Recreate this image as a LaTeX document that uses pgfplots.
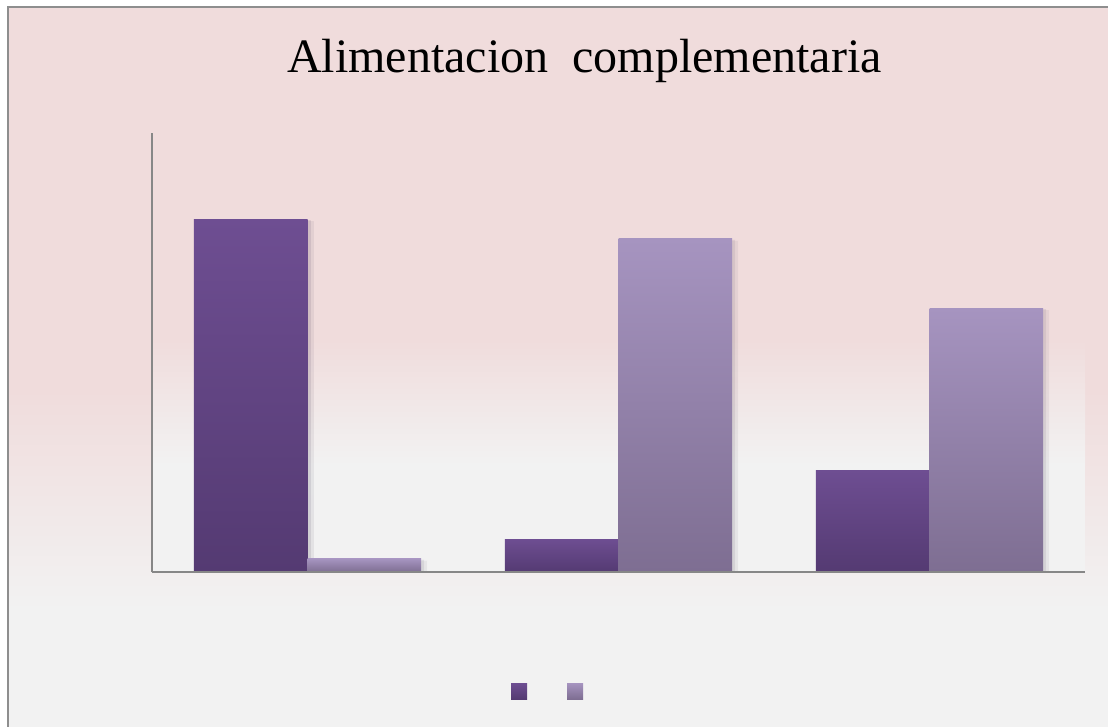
\documentclass[border=0pt]{standalone}
\usepackage{pgfplots}
\pgfplotsset{compat=1.18}
\usepackage{fontspec}
\setmainfont{Liberation Serif}
\definecolor{pinkbg}{HTML}{F0DCDC}
\definecolor{graybg}{HTML}{F2F2F2}
\definecolor{bordergray}{HTML}{8E8E8E}
\definecolor{axisgray}{HTML}{878787}
\definecolor{darktop}{HTML}{6E4E92}
\definecolor{darkbot}{HTML}{543A72}
\definecolor{lighttop}{HTML}{A694C0}
\definecolor{lightbot}{HTML}{7E6E92}
\pgfplotstableread{
x  a     b
0  80.4  3.0
1  7.5   75.9
2  23.2  60.1
}\datatable
\begin{document}
\begin{tikzpicture}[x=1pt,y=1pt]
\useasboundingbox (0,0) rectangle (1108,-727);
% outer background
\fill[pinkbg] (8,-7) rectangle (1108,-390);
\shade[top color=pinkbg, bottom color=graybg] (8,-390) rectangle (1108,-610);
\fill[graybg] (8,-610) rectangle (1108,-727);
% plot area background
\fill[pinkbg] (152,-133) rectangle (1085,-340);
\shade[top color=pinkbg, bottom color=graybg] (152,-340) rectangle (1085,-465);
\fill[graybg] (152,-465) rectangle (1085,-572);
\draw[bordergray, line width=1.5pt] (8,-727) -- (8,-7) -- (1108,-7);
\node[anchor=base, font=\fontsize{48}{58}\selectfont, inner sep=0pt] at (584.5,-73) {Alimentacion\ \ complementaria};
\begin{axis}[
  at={(152pt,-572pt)}, anchor=south west,
  width=933pt, height=439pt, scale only axis,
  xmin=-0.5, xmax=2.5, ymin=0, ymax=100,
  axis x line*=bottom, axis y line*=left,
  axis line style={axisgray, line width=1.5pt, -},
  axis on top,
  ticks=none,
  ybar, bar width=0.365,
  shadowbar/.style={draw=none,
    preaction={fill=black, fill opacity=0.035, transform canvas={xshift=6pt,yshift=-2pt}},
    preaction={fill=black, fill opacity=0.05, transform canvas={xshift=3pt,yshift=-1pt}}},
  darkbar/.style={shadowbar, top color=darktop, bottom color=darkbot, bar shift=-0.1825},
  lightbar/.style={shadowbar, top color=lighttop, bottom color=lightbot, bar shift=0.1825},
  legend style={at={(0.4239,-0.2711)}, anchor=center, draw=none, fill=none,
    legend columns=-1, nodes={inner sep=0pt},
    /tikz/every even column/.append style={column sep=39pt}},
  legend image code/.code={\path[#1, draw=none] (0pt,-8pt) rectangle (16pt,8pt);},
]
\addlegendimage{top color=darktop, bottom color=darkbot}
\addlegendentry{}
\addlegendimage{top color=lighttop, bottom color=lightbot}
\addlegendentry{}
\addplot[darkbar, forget plot] table[x=x, y=a, skip coords between index={1}{3}] {\datatable};
\addplot[darkbar, forget plot] table[x=x, y=a, skip coords between index={0}{1}, skip coords between index={2}{3}] {\datatable};
\addplot[darkbar, forget plot] table[x=x, y=a, skip coords between index={0}{2}] {\datatable};
\addplot[lightbar, forget plot] table[x=x, y=b, skip coords between index={1}{3}] {\datatable};
\addplot[lightbar, forget plot] table[x=x, y=b, skip coords between index={0}{1}, skip coords between index={2}{3}] {\datatable};
\addplot[lightbar, forget plot] table[x=x, y=b, skip coords between index={0}{2}] {\datatable};
\end{axis}
\end{tikzpicture}
\end{document}
